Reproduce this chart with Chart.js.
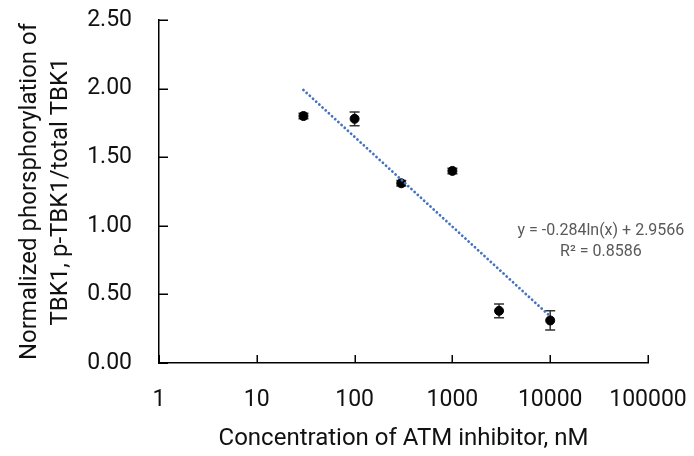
<!DOCTYPE html>
<html>
<head>
<meta charset="utf-8">
<script src="https://cdn.jsdelivr.net/npm/chart.js@4.4.1/dist/chart.umd.min.js"></script>
<style>
  html, body { margin: 0; padding: 0; background: #ffffff; }
  #wrap { width: 694px; height: 456px; position: relative; }
</style>
</head>
<body>
<div id="wrap"><canvas id="c" width="694" height="456"></canvas></div>
<script>
// ---- data ----
const concentrations = [30, 100, 300, 1000, 3000, 10000];
const means          = [1.80, 1.78, 1.31, 1.40, 0.38, 0.31];
const errors         = [0.02, 0.05, 0.02, 0.02, 0.05, 0.07];
const trendX = [30, 10000];
const trendY = [1.99, 0.34];
const xTickValues = [1, 10, 100, 1000, 10000, 100000];
const yTickValues = [0, 0.5, 1.0, 1.5, 2.0, 2.5];
const equationLines = ['y = -0.284ln(x) + 2.9566', 'R\u00B2 = 0.8586'];
const equationAnchor = [33000, 0.965];
const xTitle = 'Concentration of ATM inhibitor, nM';
const yTitle = ['Normalized phorsphorylation of', 'TBK1, p-TBK1/total TBK1'];

const FONT = 'Roboto, "Liberation Sans", sans-serif';
const TXT = '#111111';

const scatterData = concentrations.map((x, i) => ({ x: x, y: means[i] }));
const trendData = trendX.map((x, i) => ({ x: x, y: trendY[i] }));

const extras = {
  id: 'extras',
  beforeDatasetsDraw(chart) {
    const ctx = chart.ctx, xs = chart.scales.x, ys = chart.scales.y;
    ctx.save();
    ctx.strokeStyle = '#333333';
    ctx.lineWidth = 1.5;
    concentrations.forEach((c, i) => {
      const px = xs.getPixelForValue(c);
      const top = ys.getPixelForValue(means[i] + errors[i]);
      const bot = ys.getPixelForValue(means[i] - errors[i]);
      ctx.beginPath();
      ctx.moveTo(px, top); ctx.lineTo(px, bot);
      ctx.moveTo(px - 5, top); ctx.lineTo(px + 5, top);
      ctx.moveTo(px - 5, bot); ctx.lineTo(px + 5, bot);
      ctx.stroke();
    });
    ctx.restore();
  },
  afterDraw(chart) {
    const ctx = chart.ctx, xs = chart.scales.x, ys = chart.scales.y;
    const area = chart.chartArea;
    ctx.save();
    // inward tick marks
    ctx.strokeStyle = '#000';
    ctx.lineWidth = 1.5;
    ctx.beginPath();
    yTickValues.forEach(v => {
      const py = Math.round(ys.getPixelForValue(v)) + 0.25;
      ctx.moveTo(area.left, py); ctx.lineTo(area.left + 9, py);
    });
    xTickValues.forEach(v => {
      const px = Math.round(xs.getPixelForValue(v)) + 0.25;
      ctx.moveTo(px, area.bottom); ctx.lineTo(px, area.bottom - 8);
    });
    ctx.stroke();
    // trendline equation
    ctx.fillStyle = '#595959';
    ctx.font = '16px ' + FONT;
    ctx.textAlign = 'center';
    ctx.textBaseline = 'middle';
    const ax = xs.getPixelForValue(equationAnchor[0]);
    const ay = ys.getPixelForValue(equationAnchor[1]);
    equationLines.forEach((t, i) => ctx.fillText(t, ax, ay + i * 21));
    ctx.restore();
  }
};

new Chart(document.getElementById('c'), {
  type: 'scatter',
  data: {
    datasets: [
      {
        label: 'trend',
        type: 'line',
        data: trendData,
        borderColor: '#4472C4',
        borderWidth: 2.8,
        borderDash: [0.01, 4.3],
        borderCapStyle: 'round',
        pointRadius: 0,
        fill: false,
        order: 0
      },
      {
        label: 'data',
        data: scatterData,
        backgroundColor: '#000',
        borderColor: '#000',
        pointRadius: 4.5,
        pointHoverRadius: 4.5,
        order: 1
      }
    ]
  },
  options: {
    responsive: false,
    animation: false,
    events: [],
    layout: { padding: 0 },
    plugins: { legend: { display: false }, tooltip: { enabled: false } },
    scales: {
      x: {
        type: 'logarithmic',
        min: 1,
        max: 100000,
        afterBuildTicks(scale) { scale.ticks = xTickValues.map(v => ({ value: v })); },
        afterFit(scale) {
          scale.height = 93;
          scale.paddingLeft = 0;
          scale.paddingRight = 46;
        },
        grid: { display: false, drawTicks: false },
        border: { display: true, color: '#000', width: 1.5 },
        ticks: {
          color: TXT,
          font: { family: FONT, size: 23 },
          padding: 23,
          maxRotation: 0,
          autoSkip: false,
          callback: (v) => String(v)
        },
        title: {
          display: true,
          text: xTitle,
          color: TXT,
          font: { family: FONT, size: 24 },
          padding: { top: 0, bottom: 3 }
        }
      },
      y: {
        min: 0,
        max: 2.5,
        afterBuildTicks(scale) { scale.ticks = yTickValues.map(v => ({ value: v })); },
        afterFit(scale) {
          scale.width = 159;
          scale.paddingTop = 20;
          scale.paddingBottom = 0;
        },
        grid: { display: false, drawTicks: false },
        border: { display: true, color: '#000', width: 1.5 },
        ticks: {
          color: TXT,
          font: { family: FONT, size: 23 },
          padding: 27,
          callback: (v) => Number(v).toFixed(2)
        },
        title: {
          display: true,
          text: yTitle,
          color: TXT,
          font: { family: FONT, size: 24, lineHeight: 1.3 },
          padding: { top: 14, bottom: 0 }
        }
      }
    }
  },
  plugins: [extras]
});
</script>
</body>
</html>
